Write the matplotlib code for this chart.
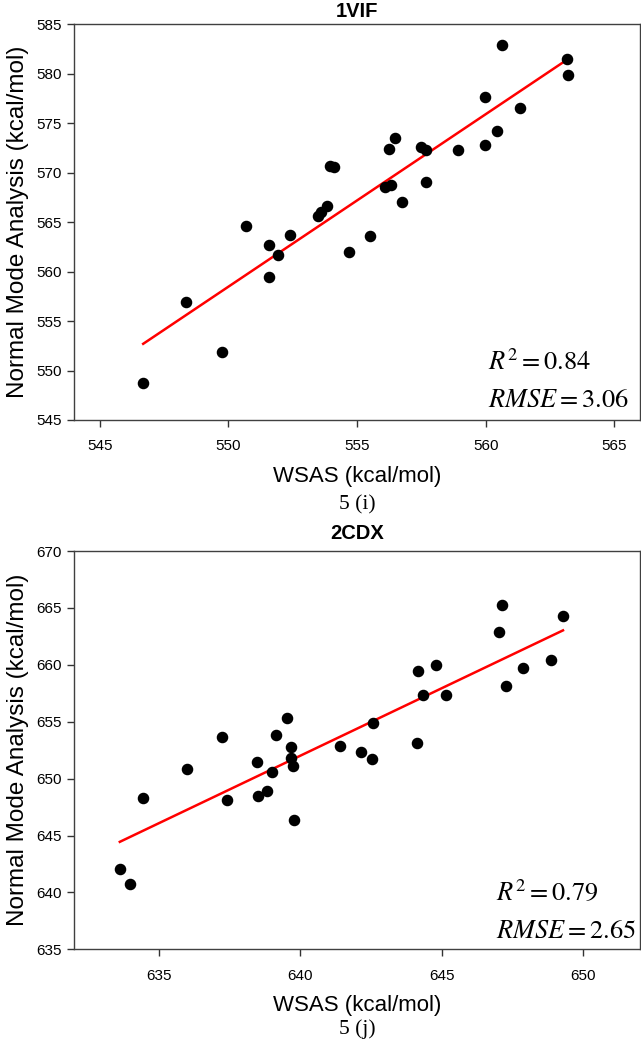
import numpy as np
import matplotlib
matplotlib.use("Agg")
import matplotlib.pyplot as plt

# data, panel 5 (i) - 1VIF
wsas_1vif = [546.69, 548.34, 549.74, 550.69, 551.57, 551.58, 551.94, 552.38, 553.47, 553.60,
             553.83, 553.96, 554.09, 554.68, 555.49, 556.10, 556.32, 556.74, 556.23, 556.46,
             557.49, 557.68, 557.67, 558.91, 559.97, 559.97, 560.43, 561.32, 560.63, 563.15,
             563.21]
nma_1vif = [548.77, 556.95, 551.84, 564.60, 562.64, 559.44, 561.67, 563.65, 565.61, 566.00,
            566.58, 570.62, 570.56, 562.02, 563.62, 568.50, 568.70, 566.98, 572.39, 573.54,
            572.56, 572.29, 569.07, 572.29, 577.64, 572.83, 574.24, 576.50, 582.88, 581.47,
            579.82]

# panel 5 (j) - 2CDX
wsas_2cdx = [633.62, 633.97, 634.43, 635.98, 637.23, 637.41, 638.46, 638.49, 638.83, 639.00,
             639.15, 639.54, 639.68, 639.66, 639.74, 639.79, 641.40, 642.15, 642.56, 642.54,
             644.13, 644.17, 644.32, 644.78, 645.16, 647.02, 647.14, 647.25, 647.85, 648.85,
             649.28]
nma_2cdx = [642.09, 640.74, 648.32, 650.88, 653.62, 648.09, 651.44, 648.50, 648.88, 650.59,
            653.79, 655.32, 652.76, 651.85, 651.09, 646.35, 652.87, 652.35, 654.85, 651.76,
            653.09, 659.47, 657.38, 660.00, 657.38, 662.88, 665.24, 658.18, 659.74, 660.41,
            664.29]

titles = ["1VIF", "2CDX"]
captions = ["5 (i)", "5 (j)"]
r2_text = ["0.84", "0.79"]
rmse_text = ["3.06", "2.65"]
xlims = [(544, 566), (632, 652)]
ylims = [(545, 585), (635, 670)]
xticks = [[545, 550, 555, 560, 565], [635, 640, 645, 650]]
yticks = [list(range(545, 586, 5)), list(range(635, 671, 5))]

plt.rcParams['font.family'] = ['Liberation Sans', 'DejaVu Sans']
plt.rcParams['mathtext.fontset'] = 'stix'

fig = plt.figure(figsize=(6.41, 10.5), dpi=100)

# axes positions in figure fractions
positions = [[0.1154, 0.600, 0.883, 0.377], [0.1154, 0.0959, 0.883, 0.3793]]
title_pads = [5, 8.5]
xs = [wsas_1vif, wsas_2cdx]
ys = [nma_1vif, nma_2cdx]
r2_pos = [(0.731, 0.146, 0.05), (0.746, 0.144, 0.047)]
caption_y = [505, 1029]

for i in range(2):
    ax = fig.add_axes(positions[i])
    x = np.array(xs[i])
    y = np.array(ys[i])
    # scatter points
    ax.plot(x, y, 'o', color='black', markersize=7.3, zorder=3)
    # linear regression line
    slope, intercept = np.polyfit(x, y, 1)
    xl = np.array([x.min(), x.max()])
    ax.plot(xl, slope * xl + intercept, color='red', linewidth=1.8, zorder=2)

    ax.set_xlim(xlims[i])
    ax.set_ylim(ylims[i])
    ax.set_xticks(xticks[i])
    ax.set_yticks(yticks[i])
    ax.tick_params(direction='out', length=5, width=1, colors='#333333', labelsize=11,
                   labelcolor='black')
    ax.tick_params(axis='x', pad=9)
    ax.tick_params(axis='y', pad=4)
    for s in ax.spines.values():
        s.set_color('#404040')
        s.set_linewidth(1.0)

    ax.set_title(titles[i], fontsize=14.5, fontweight='bold', pad=title_pads[i])
    ax.set_ylabel('Normal Mode Analysis (kcal/mol)', fontsize=17.5, labelpad=5)
    ax.set_xlabel('WSAS (kcal/mol)', fontsize=16, labelpad=9)

    xt, yr, yrm = r2_pos[i]
    ax.text(xt, yr, r'$R^2 = ' + r2_text[i] + '$', transform=ax.transAxes,
            fontsize=19, ha='left', va='center')
    ax.text(xt, yrm, r'$RMSE = ' + rmse_text[i] + '$', transform=ax.transAxes,
            fontsize=19, ha='left', va='center')

    # figure caption under the panel
    fig.text(0.557, 1 - caption_y[i] / 1050, captions[i], fontsize=15.5,
             family='Liberation Serif', ha='center', va='center')

plt.savefig('out.png', dpi=100)
